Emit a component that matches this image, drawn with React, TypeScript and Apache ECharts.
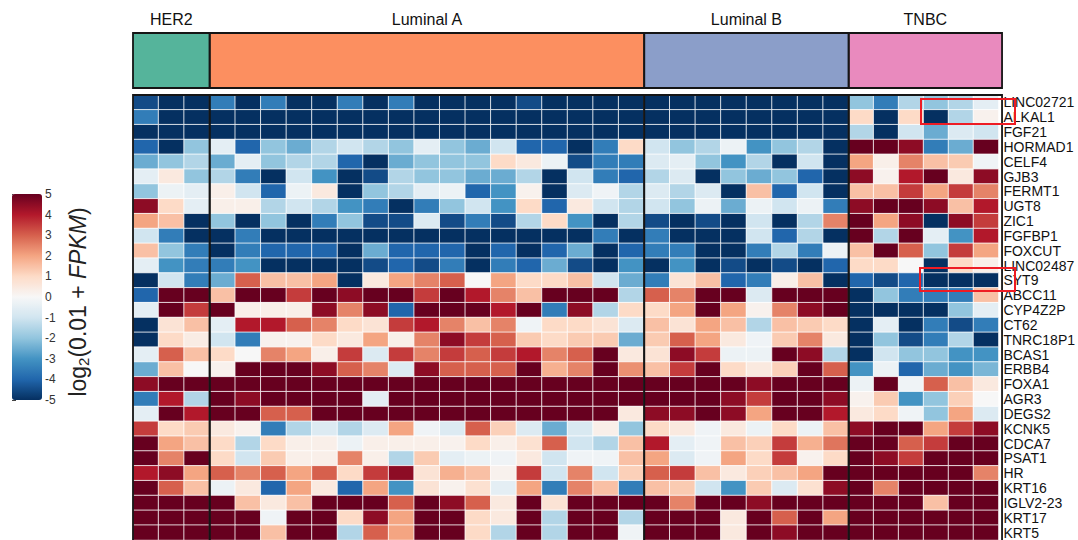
import React, { useEffect, useRef } from "react";
import * as echarts from "echarts";

const groupNames = ["HER2", "Luminal A", "Luminal B", "TNBC"];
const groupSizes = [3, 17, 8, 6];
const groupColors = ["#55b49b", "#fc8f60", "#8b9ec9", "#e98abe"];

const genes = [
  "LINC02721", "ALKAL1", "FGF21", "HORMAD1", "CELF4", "GJB3", "FERMT1", "UGT8",
  "ZIC1", "FGFBP1", "FOXCUT", "LINC02487", "SYT9", "ABCC11", "CYP4Z2P", "CT62",
  "TNRC18P1", "BCAS1", "ERBB4", "FOXA1", "AGR3", "DEGS2", "KCNK5", "CDCA7",
  "PSAT1", "HR", "KRT16", "IGLV2-23", "KRT17", "KRT5",
];

const her2Values = [
  [-4.5, -5, -5], [-3.5, -5, -5], [-5, -5, -5], [-4, -5, -2], [-2.5, -2, -1.5],
  [-0.5, 0.5, -2], [-2, -0.3, -0.5], [4.5, 1, -0.5], [2, 1.5, -5], [-1, -3.5, -5],
  [1.5, -2, -3.5], [-0.5, -3, -3.5], [-5, -1, -3.5], [-4, 5, 5], [-0.5, 5, 3.5],
  [-5, 0.7, 1.5], [-5, 1, 0.4], [-0.5, 3, 1.5], [-2.5, 1.5, 0], [4.5, 5, 5],
  [-3.5, 4, -1.5], [-0.5, 5, 4], [3.5, 1, 1.3], [5, 2, 1.5], [5, 2.5, 5],
  [4, 4.5, 2], [5, 3, 1.5], [5, 5, 5], [5, 5, 5], [5, 5, 5],
];

const lumAValues = [
  [-3.5, -5, -3.5, -5, -5, -3.5, -5, -3.5, -5, -5, -5, -5, -4.5, -5, -5, -5, -5],
  [-5, -5, -5, -5, -5, -5, -5, -5, -5, -5, -5, -5, -5, -5, -5, -5, -5],
  [-5, -5, -5, -5, -5, -5, -5, -5, -5, -5, -5, -5, -5, -5, -5, -5, -5],
  [-0.5, -4, -2, -2.5, -1.5, -1, -1.5, -2, -0.5, -2, -2.5, -1, -4, -4, -5, -3.5, 1],
  [-2.5, -0.5, -2, -1.5, -1.5, -4, -5, -2.5, -2, -2, -2, 1, 0.5, -0.3, -4.5, -3.5, -3.5],
  [-1.5, -3.5, -5, -1, -3, -5, -4.5, -1.5, -2, -2, -2.5, -2.5, -1.5, -5, -1, -3.5, -4],
  [0.3, -1, -4, -0.3, 0.5, -5, -2, -1.5, -0.5, -0.3, -4, -3, 0.2, -5, -0.7, -0.2, -1.5],
  [0.3, 0.3, -1.5, -1, -1.5, -3, -3.5, -5, -3.5, -2, -1, -3, 1, -4, 0.5, -1, -1.5],
  [-2, -5, -2, -5, -3.5, -2, -4.5, -4.5, -0.7, -4.5, -3.5, -4.5, -1.5, 1, -3, -5, -1.5],
  [-5, -3.5, -5, -5, -5, -5, -5, -5, -5, -5, -5, -5, -5, -5, -5, -3.5, -5],
  [-5, -3.5, -4, -4, -4, -5, -2.5, -4, -4, -4, -5, -4, -5, -4, -2.5, -5, -4],
  [-3.5, -3, -5, -5, -5, -5, -4.5, -4, -4.5, -3.5, -5, -3.5, -4, -2.5, -4.5, -5, -3],
  [-2.5, 3, 1.5, 1.5, 2, -5, 0.5, 2, 2.5, 3, 0, 2, 1, 1, 1.5, -1, -2.5],
  [1.5, 5, 5, 3.5, 5, 4.5, 5, 5, 3.5, 5, 4, 2.5, 1.5, 5, 5, 5, -1.5],
  [5, 0.3, 0.3, 0.3, 4.5, 2.5, 4.5, -4, 5, 5, 5, 4, 5, -3.5, 4.5, -1.5, 1],
  [-0.5, 4, 4, 3, 2.5, 1, 0.7, 3.5, 4, 2.5, 1.5, 2.5, -0.2, 1, 1, 0.7, -0.7],
  [-1, -3.5, 0.2, 0.2, 1, 0.5, 2, 0.3, 2.5, 4.5, 3.5, 3, 1.3, 1, 1.3, 1.3, -2.5],
  [1, 0, 2.5, 2, 0.3, 3.5, -0.7, 3.5, 2.5, 3.5, 3, 3.5, 4, 2.5, 3, 5, 0.5],
  [0.2, 5, 5, 5, 4.5, 3, 2.5, -0.7, 4.5, 3, 3, 3, 5, 1.8, 2.5, 5, 2.3],
  [5, 5, 5, 5, 5, 5, 5, 5, 5, 5, 5, 5, 5, 5, 5, 5, 5],
  [5, 4.5, 5, 5, 5, 5, -0.5, 5, 5, 5, 5, 5, 5, 5, 5, 5, 5],
  [5, 5, 3, 3, 5, 5, 5, 5, 5, 5, 5, 5, 5, 5, 5, 5, 0.5],
  [0.5, 0.2, -3.5, -1.5, -0.7, -1.5, -0.7, 2, -0.2, -0.7, 3, 1.2, -0.7, -2.5, -0.8, 0.3, -2],
  [1, -1.5, 1, 0.3, 0.3, -0.3, 0.3, 0.3, 0.3, 0.2, 1, 0.3, 0.8, 3, -1, -1.5, 1.5],
  [1, -1, 1.3, 0.3, 0.3, 2.5, 0.3, -1.5, 1.3, -0.5, -0.3, -0.2, 0.5, -1, -0.2, -0.2, 1.5],
  [3, 2.5, 3, 2, 3, 1, 3.5, 4.5, 0.7, 1.8, 1.5, 0.2, 3.5, -1, 2.5, -1, 1.2],
  [-0.3, 0.5, -4, 2, 0.5, -4, 2, -3, 0.7, 0.2, 0.8, -0.5, 2, -3.5, 2.5, 1.5, -3.5],
  [5, 1.5, 0.5, 1.5, 5, 5, 5, 3, 5, 4.5, 3, 0.5, 5, 0.7, 5, 5, 5],
  [5, 5, -0.2, 5, 5, 1, 4.5, 2, 5, 5, 1, 0.5, 5, -1.5, 5, 5, -1.5],
  [5, 5, 1.5, 5, 5, -1.5, 3, 2, 5, 5, 1, -1.5, 5, -1.5, 5, 5, -0.2],
];

const lumBValues = [
  [-5, -5, -5, -5, -5, -5, -5, -5],
  [-5, -5, -5, -5, -5, -5, -5, -5],
  [-5, -5, -5, -5, -5, -5, -5, -5],
  [-1, -2, -1.5, -0.3, -3, -2, -1.5, -5],
  [-0.7, -0.5, -2, -3, -1.5, -5, -1, -5],
  [-1.5, -0.7, -5, -2, -2.5, -2, -4, -5],
  [-0.7, -1.5, -0.7, -5, 1.5, -4, -1, -5],
  [-1, -2, -0.3, -2.5, -0.3, -1, -0.3, -3.5],
  [-4.5, -5, -4.5, -5, -1, -5, -1.5, 2.5],
  [-3.5, -5, -5, -5, -1, -4, -1.5, -5],
  [-3.5, -3.5, -5, -5, -3.5, -1.5, -3.5, -0.3],
  [-5, -3, -5, -4.5, -5, -4.5, -5, -4],
  [-3.5, 0.7, 1.5, -4, -3.5, 0.3, 1.5, -5],
  [3, 2.5, 5, 5, -0.7, 5, 5, 5],
  [1, 2, 5, 2, 0.2, 2.5, 4.5, 5],
  [1.5, 0.7, 2, 1.5, -1.5, 1.5, 1.3, 1],
  [1.3, 3, 2, 0.5, -0.2, 1.3, 2.5, 0.5],
  [0.7, 4.5, 3.5, -0.3, -0.3, 5, 4.5, -1.5],
  [1.5, 3.5, 5, 1, 0.5, 1.2, 5, 3],
  [5, 5, 5, 5, 4.5, 5, 5, 5],
  [5, 5, 5, 4.5, 3.5, 5, 5, 4.5],
  [4.5, 4.5, 5, 4.5, 2, 5, 5, 4],
  [1, 0.5, -0.2, 0.5, -0.3, 1, -0.3, 1.5],
  [4, -0.5, -0.2, 1.5, 1.2, 3.5, 1.8, 2.7],
  [2, -0.7, -0.2, 2, 1, 3.5, 0.2, 1],
  [3, 3.5, 1.5, 0.5, 1.2, 1.5, 2, 5],
  [1.5, 1.3, -1, -3, 1.3, -0.7, 0.8, 4.5],
  [5, 2.5, 5, 5, 4.5, 5, 5, 5],
  [5, 5, 5, 0.5, 5, 3, 5, 2],
  [5, 5, 5, 0.5, 5, 4.5, 5, 5],
];

const tnbcValues = [
  [-2, -3.5, -1.5, -2, -1.5, -0.5],
  [1, -5, 1, -5, -1.5, 0.2],
  [-1.5, -5, -1, -2.5, -0.7, -1],
  [5, 5, 4.5, -3.5, -2.5, 5],
  [2, 0.3, 2.5, 1.5, 1.3, -0.2],
  [4.5, 0.2, 4, 5, 0.5, 4.5],
  [1.5, 1.5, 3.5, 2, 3.5, 2.5],
  [4.5, 5, 5, 4.5, 1.5, 4],
  [5, 2, 4.5, -5, 4.5, 3.5],
  [5, -1.5, 5, -0.5, -3, 4],
  [1.5, 5, 3, -2, 3.5, 2],
  [1, 1, 0, -5, 1, 0.3],
  [-4, -4.5, -4, -5, -5, -5],
  [-5, -2, -3.5, -3.5, -3.5, 1.5],
  [-5, -5, -5, -5, -2, -0.5],
  [-5, -0.5, -5, -3.5, -4.5, -3.5],
  [-5, -2, -4.5, -3.5, -1.5, -5],
  [-5, -1, -2, -2, -3, -3],
  [-3, -0.3, -4, -2.5, -3, -2.3],
  [-0.3, 5, -0.2, 3, 1.5, 0.5],
  [0.2, 1.3, -3, -2, 1.2, 0],
  [0.5, 1, -0.2, -2, 2, -0.7],
  [4.5, 5, 5, 2, 3.5, 4.5],
  [5, 5, 3, 3.5, 5, 5],
  [5, 4.5, 3.5, 5, 5, 5],
  [5, 5, 5, 5, 5, 2.5],
  [5, 2.5, 5, 5, 5, 5],
  [5, 5, 5, 1.5, 5, 5],
  [5, 5, 5, 5, 5, 5],
  [5, 5, 5, 5, 5, 5],
];

const groupValues = [her2Values, lumAValues, lumBValues, tnbcValues];
const colorRange = [-5, 5];

const RdBu_r = [
  "#053061", "#2166ac", "#4393c3", "#92c5de", "#d1e5f0", "#f7f7f7",
  "#fddbc7", "#f4a582", "#d6604d", "#b2182b", "#67001f",
];

const FONT = "'Liberation Sans', Arial, Helvetica, sans-serif";

export default function App() {
  const ref = useRef<HTMLDivElement>(null);

  useEffect(() => {
    document.body.style.margin = "0";
    if (!ref.current) return;
    const chart = echarts.init(ref.current, undefined, { renderer: "svg" });

    const heatLeft = 133;
    const cellW = 25.56;
    const heatTop = 95;
    const rowH = 14.95;
    const heatH = rowH * genes.length;
    const annTop = 33;
    const annH = 55;

    const lefts: number[] = [];
    let acc = heatLeft;
    groupSizes.forEach((n) => {
      lefts.push(acc);
      acc += n * cellW;
    });
    const widths = groupSizes.map((n) => n * cellW);

    const grids: any[] = [];
    const xAxes: any[] = [];
    const yAxes: any[] = [];
    const series: any[] = [];

    groupNames.forEach((name, g) => {
      grids.push({ left: lefts[g], top: heatTop, width: widths[g], height: heatH });
      xAxes.push({
        type: "category",
        gridIndex: g,
        data: Array.from({ length: groupSizes[g] }, (_, i) => `${name}-${i + 1}`),
        show: false,
      });
      const isLast = g === groupNames.length - 1;
      yAxes.push({
        type: "category",
        gridIndex: g,
        data: genes,
        inverse: true,
        position: "right",
        axisLine: { show: false },
        axisTick: { show: false },
        splitLine: { show: false },
        axisLabel: {
          show: isLast,
          color: "#111",
          fontSize: 14,
          fontFamily: FONT,
          margin: 5,
          interval: 0,
        },
      });
      const data: any[] = [];
      groupValues[g].forEach((row, r) => {
        row.forEach((v, c) => data.push([c, r, v]));
      });
      series.push({
        type: "heatmap",
        xAxisIndex: g,
        yAxisIndex: g,
        data,
        itemStyle: { borderColor: "#ffffff", borderWidth: 0.8 },
        emphasis: { disabled: true },
      });
    });

    groupNames.forEach((name, g) => {
      const gi = groupNames.length + g;
      grids.push({ left: lefts[g], top: annTop, width: widths[g], height: annH });
      xAxes.push({
        type: "category",
        gridIndex: gi,
        data: [name],
        position: "top",
        axisLine: { show: false },
        axisTick: { show: false },
        axisLabel: { color: "#111", fontSize: 16, fontFamily: FONT, margin: 6 },
      });
      yAxes.push({ type: "category", gridIndex: gi, data: [name], show: false });
      series.push({
        type: "heatmap",
        xAxisIndex: gi,
        yAxisIndex: gi,
        data: [[0, 0, g]],
        emphasis: { disabled: true },
      });
    });

    const cbLeft = 12;
    const cbTop = 194;
    const cbW = 30;
    const cbH = 206;
    const cbIndex = grids.length;
    grids.push({ left: cbLeft, top: cbTop, width: cbW, height: cbH });
    xAxes.push({ type: "value", gridIndex: cbIndex, show: false, min: 0, max: 1 });
    yAxes.push({
      type: "value",
      gridIndex: cbIndex,
      min: colorRange[0],
      max: colorRange[1],
      interval: 1,
      position: "right",
      axisLine: { show: false },
      splitLine: { show: false },
      axisTick: { show: true, length: 4, lineStyle: { color: "#444", width: 1 } },
      axisLabel: { color: "#333", fontSize: 12, fontFamily: FONT, margin: 3 },
    });

    const outlines: any[] = [];
    groupNames.forEach((_, g) => {
      outlines.push({
        type: "rect",
        z: 100,
        silent: true,
        shape: { x: lefts[g], y: heatTop, width: widths[g], height: heatH },
        style: { fill: "none", stroke: "#151515", lineWidth: 1.8 },
      });
      outlines.push({
        type: "rect",
        z: 100,
        silent: true,
        shape: { x: lefts[g], y: annTop, width: widths[g], height: annH },
        style: { fill: "none", stroke: "#151515", lineWidth: 1.8 },
      });
    });

    const option: any = {
      animation: false,
      backgroundColor: "#ffffff",
      grid: grids,
      xAxis: xAxes,
      yAxis: yAxes,
      visualMap: [
        {
          type: "continuous",
          seriesIndex: [0, 1, 2, 3],
          min: colorRange[0],
          max: colorRange[1],
          calculable: false,
          orient: "vertical",
          left: cbLeft,
          top: cbTop,
          itemWidth: cbW,
          itemHeight: cbH,
          padding: 0,
          text: null,
          showLabel: false,
          inRange: { color: RdBu_r },
        },
        {
          type: "piecewise",
          show: false,
          seriesIndex: [4, 5, 6, 7],
          pieces: groupColors.map((c, i) => ({ value: i, color: c })),
        },
      ],
      series,
      graphic: [
        ...outlines,
        {
          type: "rect",
          z: 110,
          silent: true,
          shape: { x: 921, y: 99, width: 94, height: 25 },
          style: { fill: "none", stroke: "#ee1c24", lineWidth: 2 },
        },
        {
          type: "rect",
          z: 110,
          silent: true,
          shape: { x: 920, y: 268, width: 95, height: 23 },
          style: { fill: "none", stroke: "#ee1c24", lineWidth: 2 },
        },
        {
          type: "text",
          x: 78,
          y: 302,
          rotation: Math.PI / 2,
          silent: true,
          style: {
            text: "{n|log}{s|2}{n|(0.01 + }{i|FPKM}{n|)}",
            align: "center",
            verticalAlign: "middle",
            rich: {
              n: { fontSize: 23, fontFamily: FONT, fill: "#222" },
              s: { fontSize: 15, fontFamily: FONT, fill: "#222", padding: [11, 0, 0, 0] },
              i: { fontSize: 23, fontFamily: FONT, fontStyle: "italic", fill: "#222" },
            },
          },
        },
      ],
    };

    chart.setOption(option);
    return () => chart.dispose();
  }, []);

  return <div ref={ref} style={{ width: 1078, height: 540 }} />;
}
